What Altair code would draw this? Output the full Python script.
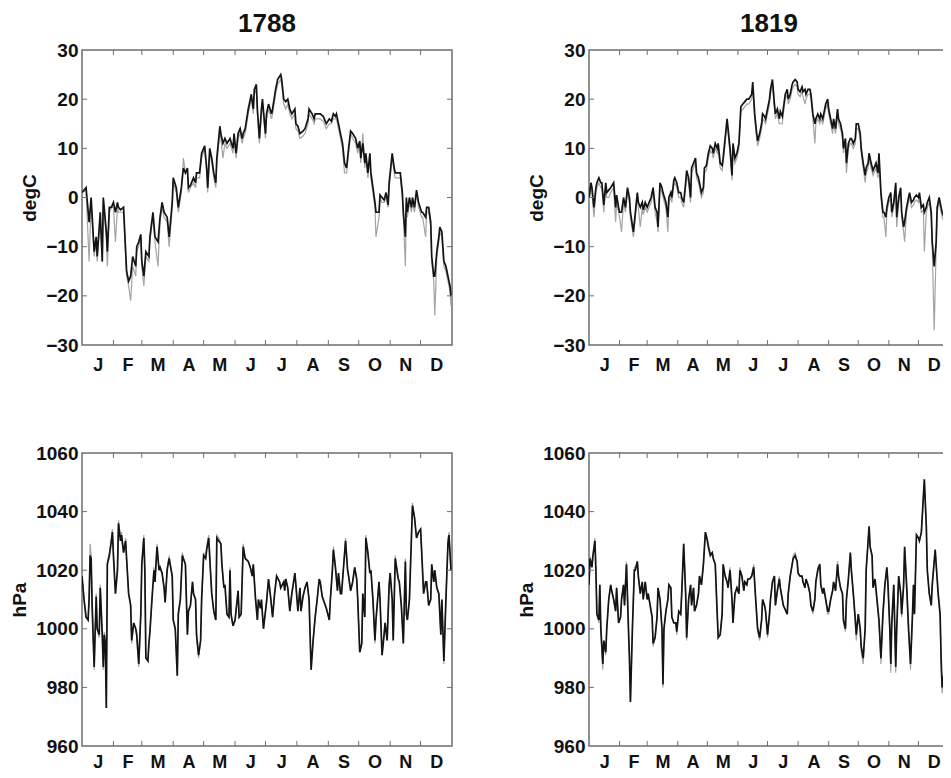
import altair as alt
import pandas as pd

FONT = "Liberation Sans"
FRAME = "#6e6e6e"
INK = "#111111"

MONTHS = ["J", "F", "M", "A", "M", "J", "J", "A", "S", "O", "N", "D"]
MONTH_MID = [15.5, 45, 74.5, 105, 135.5, 166, 196.5, 227.5, 258, 288.5, 319, 349.5]
MONTH_EDGES = [31, 59, 90, 120, 151, 181, 212, 243, 273, 304, 334]
YEARS = ["1788", "1819"]
T_TICKS = [-30, -20, -10, 0, 10, 20, 30]
P_TICKS = [960, 980, 1000, 1020, 1040, 1060]

# ---- 1788 temperature (degC) ----
T88_DAYS = [0, 4, 7, 9, 12, 14, 15, 18, 20, 21, 24, 25, 27, 29, 31, 33, 35, 36, 38, 41,
            44, 46, 48, 50, 53, 54, 56, 58, 59, 61, 63, 66, 67, 70, 72, 75, 77, 79, 81, 84,
            86, 89, 90, 93, 95, 98, 100, 102, 104, 105, 107, 110, 112, 113, 116, 118, 121, 123, 124, 126,
            128, 130, 132, 133, 136, 137, 139, 141, 143, 146, 149, 150, 152, 154, 156, 158, 159, 161, 164, 165,
            167, 169, 170, 172, 173, 175, 177, 178, 181, 182, 184, 187, 188, 191, 193, 196, 197, 199, 201, 203,
            205, 207, 210, 211, 213, 215, 218, 220, 223, 224, 227, 229, 230, 233, 235, 238, 239, 241, 244, 246,
            248, 250, 251, 253, 255, 257, 259, 261, 263, 265, 267, 270, 272, 274, 275, 277, 279, 280, 282, 284,
            285, 287, 289, 290, 293, 294, 296, 298, 300, 302, 303, 306, 308, 309, 312, 314, 316, 317, 319, 320,
            321, 323, 325, 326, 328, 330, 332, 335, 336, 339, 340, 342, 344, 345, 347, 348, 350, 352, 353, 355,
            357, 359, 360, 362, 363, 364]
T88_BLACK = [1, 2, -5, 0, -11, -8, -12, -3, -13, 0, -7, -11, -2, -2, -1, -3, -1, -2, -2.5, -2,
             -15, -17, -16, -12, -14, -10, -9, -7.5, -13, -16, -11, -12, -8, -3, -8, -9, -4, -1, -3, -4,
             -8, -1, 4, 2, -2, 2, 6, 5, 6, 2, 2.5, 4, 3, 5, 5, 9, 10.5, 6, 2, 10,
             8, 5, 3, 8, 14.5, 13, 11, 12, 11, 12, 10, 13, 9, 13, 14, 12, 13, 14, 18, 19,
             21, 18, 22, 23, 18, 12, 18, 20, 13, 17, 19, 17, 18, 22, 24, 25, 24, 20, 19.5, 20,
             18, 17, 18, 15, 14.5, 13, 13.5, 14, 16, 18, 17, 16, 17, 17, 17, 16.5, 16, 15, 16, 15.5,
             17, 16.5, 17, 15, 13, 11, 7, 6, 10, 13.5, 13, 12, 10, 11.5, 8, 11, 7, 9, 5, 9,
             5, 2, -1, -3, -3, 0.5, 0, -0.5, 1, -1.5, 3, 9, 6, 5, 5, 5, 1, -3, -8, 0,
             -3, 0, -2, 0, -2, 1.5, -1, -3, -3, -4, -2, -2, -5, -12, -16, -16, -11, -8, -6, -7,
             -13, -14, -15, -17, -18, -20]
T88_GRAY = [1, 1.5, -13, -1, -12, -9, -13, -4, -13, -1, -8, -14, -3, -2, -2, -9, -2, -3, -3, -3,
            -16, -18, -21, -14, -16, -11, -10, -8, -14, -18, -12, -13, -9, -4, -9, -14, -5, -2, -4, -5,
            -10, -2, 3, 1, -3, 1, 8, 5, 5, 1, 2, 3, 2, 4, 4, 8, 10, 5, 1, 9,
            7, 4, 2, 7, 13, 12, 8, 11, 10, 11, 9, 12, 8, 12, 13, 11, 12, 13, 17, 18,
            20, 17, 21, 22, 17, 11, 17, 19, 12, 16, 18, 16, 17, 21, 23, 24, 23, 19, 18, 19,
            17, 16, 17, 14, 13.5, 12, 12.5, 13, 15, 17, 16, 15, 16, 16, 16, 15.5, 15, 14, 15, 15,
            16, 16, 16, 14, 12, 10, 5, 5, 9, 13, 12, 11, 9, 11, 7, 13, 6, 8, 4, 8,
            4, 1, -2, -8, -4, 0, -1, -1, 0, -2, 2, 8, 5, 4, 4, 4, 0, -4, -14, -1,
            -4, -1, -3, -1, -3, 1, -2, -4, -4, -8, -3, -3, -6, -13, -17, -24, -12, -9, -7, -8,
            -14, -15, -16, -18, -19, -22]

# ---- 1819 temperature (degC) ----
T19_DAYS = [0, 2, 3, 5, 7, 8, 10, 12, 13, 15, 17, 18, 20, 22, 25, 27, 28, 30, 31, 33,
            35, 37, 39, 41, 42, 45, 47, 49, 50, 52, 54, 55, 57, 59, 61, 63, 65, 67, 69, 70,
            72, 74, 75, 78, 80, 81, 83, 84, 86, 87, 89, 91, 93, 94, 96, 98, 99, 101, 103, 104,
            106, 108, 109, 111, 113, 114, 116, 117, 119, 121, 123, 125, 126, 128, 130, 131, 133, 135, 136, 138,
            140, 141, 143, 145, 146, 148, 150, 152, 154, 156, 158, 160, 162, 165, 166, 168, 170, 171, 173, 175,
            176, 178, 179, 181, 183, 184, 186, 188, 189, 191, 193, 194, 196, 197, 199, 201, 202, 204, 206, 207,
            209, 211, 212, 214, 216, 217, 219, 220, 222, 224, 225, 227, 229, 230, 232, 234, 235, 237, 238, 240,
            242, 243, 245, 247, 248, 250, 252, 253, 255, 257, 258, 260, 261, 263, 265, 266, 268, 270, 271, 273,
            275, 276, 278, 280, 281, 283, 284, 286, 288, 289, 291, 293, 294, 296, 298, 299, 301, 302, 304, 306,
            307, 309, 311, 312, 314, 316, 317, 319, 320, 322, 324, 325, 327, 329, 330, 332, 334, 335, 337, 339,
            340, 342, 343, 345, 347, 348, 350, 352, 353, 355, 357, 358, 360, 362, 364]
T19_BLACK = [0, 3, 2, -2, 2, 3, 4, 3, 3, -1.5, 3, 1, 1.5, 2, 3, -2, 0.5, -2, -3, -3,
             0, -2, 2, 0, -3, -7, -3, 1, -1, -2, -1, -2.5, -1, -2, -1, 0, 2, -2, -3, -6,
             3, 2, 1, -1, -4, 0, 1, 0, 3.5, 4, 3, 1, 1, 0, -1, 3, 5.5, 4, 0, 6,
             7, 8, 5, 4, 2, 1, 2, 6, 6.5, 9, 10.5, 10, 9, 11, 10, 11, 7, 6.5, 8, 12,
             16, 14, 10, 4.5, 11, 8, 9, 11, 18.5, 19, 19.5, 20, 20, 21, 23.5, 17, 13, 11.5, 13, 15,
             17, 16.5, 16, 18, 20, 22, 24, 19, 17, 18, 16, 17.5, 16.5, 18, 21, 22, 20, 21, 23, 23.5,
             24, 23.5, 22, 21.5, 22.5, 21.5, 22, 21, 22, 22, 21, 17, 15, 16, 17, 16, 17, 16, 17, 19,
             20, 18, 16, 14, 16, 14, 18, 16, 15, 13, 10, 12, 7, 11, 12, 12, 11, 12, 15, 15,
             13, 10, 7, 4.5, 6, 7, 9, 7, 5.5, 6, 7, 5, 9, 1, -3, -3, -4, -2, 0, 1,
             -3, -1, 3, -4, 0, 2, -3, -6, -5, -2, 0, 1, -1, -0.5, 0, 0.5, 0, 1, -2, -1.5,
             -3, -2, -1, 0, -3, -9, -14, -9, -2, 0, -2, -3, -4, -5, -6]
T19_GRAY = [-1, 2, 1, -4, 1, 2, 3, 2, 2, -3, 2, 0, 0, 1, 2, -5, -1, -3, -4, -7,
            -1, -3, 1, -1, -4, -8, -4, 0, -2, -6, -2, -3.5, -2, -3, -2, -1, 1, -3, -5, -7,
            2, 1, 0, -2, -7, -1, 0, -1, 2.5, 3, 2, 0, 0, -1, -2, 2, 4.5, 3, -1, 5,
            6, 7, 4, 3, 1, 0, 1, 5, 5.5, 8, 9.5, 9, 8, 10, 9, 10, 6, 5.5, 7, 11,
            15, 13, 9, 3.5, 10, 7, 8, 10, 17.5, 18, 18.5, 19, 19, 20, 22.5, 16, 12, 10.5, 12, 14,
            16, 15.5, 15, 17, 19, 21, 23, 18, 16, 17, 15, 15, 15, 17, 20, 21, 19, 20, 22, 22.5,
            23, 22.5, 21, 20.5, 21.5, 20.5, 19, 20, 21, 21, 20, 16, 11, 15, 16, 15, 16, 15, 16, 18,
            19, 17, 15, 13, 15, 13, 17, 15, 14, 12, 9, 11, 5, 10, 11, 11, 10, 11, 14, 14,
            12, 9, 6, 3, 5, 6, 8, 6, 4.5, 5, 6, 4, 8, 0, -4, -4, -8, -3, -1, 0,
            -4, -2, 2, -6, -1, 1, -4, -7, -9, -3, -1, 0, -2, -1.5, -1, -0.5, -1, 0, -3, -2.5,
            -11, -3, -2, -1, -4, -10, -27, -10, -3, -1, -3, -4, -5, -6, -7]

# ---- 1788 pressure (hPa) ----
P88_DAYS = [0, 2, 4, 6, 7, 8, 9, 10, 12, 14, 15, 17, 18, 20, 21, 22, 23, 24, 25, 27,
            29, 30, 31, 33, 35, 36, 38, 39, 41, 43, 44, 46, 48, 49, 51, 53, 54, 56, 58, 59,
            61, 62, 63, 65, 66, 67, 69, 71, 72, 74, 76, 77, 79, 81, 82, 84, 86, 87, 89, 90,
            92, 94, 95, 97, 99, 100, 102, 104, 105, 107, 109, 110, 112, 113, 115, 117, 118, 120, 122, 123,
            125, 127, 128, 130, 132, 133, 135, 137, 138, 140, 141, 143, 145, 146, 147, 149, 151, 154, 155, 157,
            159, 161, 164, 166, 168, 169, 171, 173, 174, 176, 177, 179, 182, 184, 186, 188, 190, 192, 195, 196,
            199, 200, 201, 203, 205, 207, 210, 211, 213, 215, 216, 218, 220, 222, 224, 226, 228, 230, 232, 234,
            235, 237, 239, 241, 244, 245, 247, 248, 250, 252, 253, 255, 256, 258, 260, 262, 263, 265, 267, 269,
            271, 272, 274, 276, 277, 279, 280, 282, 284, 285, 287, 289, 290, 293, 294, 296, 298, 299, 301, 303,
            304, 306, 307, 309, 312, 313, 315, 317, 319, 320, 321, 323, 326, 328, 330, 332, 334, 335, 337, 339,
            340, 342, 344, 345, 347, 348, 350, 352, 354, 355, 357, 359, 361, 362, 364]
P88_BLACK = [1018, 1010, 1004, 1003, 1010, 1025, 1024, 1008, 987, 1011, 1000, 998, 1014, 998, 987, 998, 995, 973, 1022, 1025,
             1030, 1033, 1025, 1012, 1020, 1036, 1030, 1032, 1026, 1030, 1024, 1012, 1008, 996, 1002, 1000, 998, 988, 1005, 1022,
             1031, 1020, 990, 989, 995, 999, 1010, 1020, 1016, 1028, 1020, 1021, 1019, 1014, 1009, 1020, 1024, 1022, 1018, 1003,
             1000, 984, 1005, 1010, 1025, 1024, 1022, 998, 1006, 1008, 1016, 1012, 1010, 998, 991, 996, 1010, 1025, 1024, 1027,
             1031, 1018, 1012, 1006, 1003, 1031, 1030, 1029, 1022, 1014, 1015, 1005, 1004, 1020, 1005, 1001, 1003, 1013, 1004, 1005,
             1028, 1024, 1023, 1021, 1018, 1022, 1011, 1003, 1010, 1007, 1010, 1000, 1009, 1017, 1011, 1004, 1012, 1018, 1016, 1014,
             1016, 1013, 1017, 1014, 1006, 1012, 1019, 1015, 1006, 1014, 1006, 1011, 1014, 1016, 1010, 986, 996, 1004, 1010, 1017,
             1016, 1011, 1009, 1007, 1003, 1010, 1020, 1027, 1021, 1013, 1019, 1012, 1012, 1021, 1030, 1020, 1018, 1013, 1016, 1021,
             1017, 1010, 992, 995, 1012, 1004, 1031, 1026, 1019, 1020, 1010, 996, 1003, 1016, 1010, 991, 998, 1002, 996, 1015,
             1019, 1010, 996, 1024, 1017, 1016, 1008, 995, 1023, 1005, 1003, 1010, 1042, 1038, 1031, 1033, 1034, 1027, 1012, 1016,
             1016, 1008, 1010, 1022, 1016, 1020, 1014, 1012, 998, 1010, 989, 1010, 1029, 1032, 1020]
P88_GRAY = [1018, 1010, 1004, 1003, 1011, 1029, 1025, 1008, 986, 1012, 1000, 997, 1015, 997, 986, 999, 995, 973, 1023, 1026,
            1031, 1034, 1026, 1012, 1021, 1037, 1031, 1033, 1026, 1031, 1024, 1012, 1008, 995, 1002, 1000, 997, 987, 1005, 1022,
            1032, 1020, 990, 989, 995, 999, 1010, 1021, 1016, 1029, 1020, 1021, 1019, 1014, 1009, 1021, 1025, 1022, 1018, 1003,
            1000, 984, 1005, 1010, 1026, 1024, 1022, 998, 1006, 1008, 1016, 1012, 1010, 997, 990, 996, 1010, 1026, 1024, 1028,
            1032, 1018, 1012, 1006, 1003, 1032, 1031, 1029, 1022, 1014, 1015, 1005, 1004, 1021, 1005, 1001, 1003, 1013, 1004, 1005,
            1029, 1024, 1023, 1021, 1018, 1022, 1011, 1003, 1010, 1007, 1010, 1000, 1009, 1017, 1011, 1004, 1012, 1018, 1016, 1014,
            1016, 1013, 1017, 1014, 1006, 1012, 1019, 1015, 1006, 1014, 1006, 1011, 1014, 1016, 1010, 986, 996, 1004, 1010, 1017,
            1016, 1011, 1009, 1007, 1003, 1010, 1020, 1028, 1021, 1013, 1019, 1012, 1012, 1021, 1031, 1020, 1018, 1013, 1016, 1021,
            1017, 1010, 992, 995, 1012, 1004, 1032, 1026, 1019, 1020, 1010, 995, 1003, 1016, 1010, 991, 998, 1002, 996, 1015,
            1019, 1010, 996, 1025, 1017, 1016, 1008, 995, 1024, 1005, 1003, 1010, 1043, 1038, 1031, 1033, 1034, 1027, 1012, 1016,
            1016, 1008, 1010, 1022, 1016, 1020, 1014, 1012, 998, 1010, 988, 1010, 1030, 1033, 1020]

# ---- 1819 pressure (hPa) ----
P19_DAYS = [0, 1, 3, 4, 6, 7, 8, 10, 11, 12, 14, 15, 17, 18, 20, 22, 23, 25, 27, 28,
            30, 32, 33, 35, 36, 38, 40, 41, 42, 44, 46, 47, 49, 50, 52, 54, 55, 57, 59, 60,
            62, 64, 65, 67, 69, 70, 72, 74, 75, 76, 78, 80, 81, 83, 84, 86, 88, 89, 91, 93,
            94, 96, 98, 99, 101, 103, 104, 106, 107, 109, 111, 112, 114, 116, 118, 120, 121, 123, 125, 126,
            128, 130, 131, 133, 135, 136, 138, 140, 141, 143, 145, 146, 148, 150, 152, 153, 155, 157, 158, 160,
            161, 163, 165, 167, 169, 171, 173, 175, 176, 178, 179, 181, 183, 184, 186, 188, 189, 191, 193, 194,
            196, 197, 201, 202, 204, 206, 207, 209, 211, 212, 214, 216, 217, 219, 220, 222, 224, 225, 227, 229,
            230, 232, 234, 235, 237, 238, 240, 242, 243, 245, 247, 248, 250, 252, 253, 255, 257, 258, 260, 261,
            263, 265, 266, 268, 270, 271, 273, 275, 276, 278, 280, 281, 284, 285, 287, 288, 290, 292, 294, 296,
            298, 300, 302, 303, 305, 306, 307, 309, 311, 312, 314, 316, 317, 319, 320, 322, 324, 326, 328, 329,
            330, 332, 334, 335, 337, 339, 340, 342, 343, 345, 347, 348, 351, 352, 354, 356, 357, 358, 360, 362,
            364]
P19_BLACK = [1015, 1024, 1021, 1025, 1030, 1020, 1005, 1003, 1015, 1000, 988, 996, 992, 1000, 1010, 1015, 1013, 1010, 1006, 1014,
             1002, 1004, 1010, 1015, 1008, 1022, 1000, 990, 975, 1000, 1020, 1020, 1023, 1018, 1012, 1016, 1010, 1016, 1010, 1012,
             1008, 1004, 995, 997, 1004, 1014, 1010, 1000, 981, 1000, 1006, 1010, 1015, 1014, 1004, 1002, 1002, 999, 1006, 1005,
             1012, 1029, 1012, 997, 1010, 1015, 1008, 1014, 1006, 1008, 1012, 1018, 1015, 1022, 1033, 1030, 1028, 1025, 1026, 1024,
             1022, 1005, 997, 998, 1005, 1022, 1018, 1016, 1014, 1020, 1010, 1002, 1012, 1014, 1012, 1020, 1018, 1013, 1016, 1015,
             1017, 1017, 1018, 1021, 1010, 1000, 997, 1003, 1010, 1008, 1006, 998, 1005, 1010, 1016, 1018, 1008, 1013, 1017, 1014,
             1010, 1008, 1005, 1012, 1018, 1022, 1024, 1025, 1023, 1019, 1018, 1018, 1016, 1014, 1017, 1015, 1012, 1008, 1006, 1010,
             1016, 1020, 1022, 1015, 1012, 1014, 1010, 1006, 1006, 1010, 1013, 1016, 1013, 1022, 1018, 1014, 1012, 1003, 1000, 1010,
             1017, 1026, 1020, 1012, 1003, 998, 1005, 1000, 994, 990, 1000, 1020, 1035, 1028, 1025, 1014, 1017, 1010, 1003, 990,
             1005, 1015, 1021, 1016, 1000, 988, 1002, 1015, 987, 1000, 1018, 1012, 1005, 1015, 1028, 1015, 1000, 988, 1005, 1015,
             1005, 1032, 1031, 1030, 1033, 1045, 1051, 1035, 1020, 1012, 1008, 1015, 1027, 1022, 1012, 1005, 990, 980, 985, 995,
             1005]
P19_GRAY = [1015, 1025, 1021, 1025, 1031, 1020, 1005, 1002, 1015, 999, 986, 996, 991, 1000, 1010, 1015, 1013, 1010, 1006, 1014,
            1002, 1004, 1010, 1015, 1008, 1023, 1000, 990, 975, 1000, 1021, 1021, 1023, 1018, 1012, 1016, 1010, 1016, 1010, 1012,
            1008, 1004, 994, 997, 1004, 1014, 1010, 1000, 980, 1000, 1006, 1010, 1015, 1014, 1004, 1002, 1002, 998, 1006, 1005,
            1012, 1029, 1012, 996, 1010, 1015, 1008, 1014, 1006, 1008, 1012, 1018, 1015, 1022, 1033, 1031, 1029, 1026, 1026, 1024,
            1022, 1005, 997, 998, 1005, 1022, 1018, 1016, 1014, 1021, 1010, 1002, 1012, 1014, 1012, 1021, 1018, 1013, 1016, 1015,
            1017, 1017, 1018, 1022, 1010, 999, 996, 1003, 1010, 1008, 1006, 997, 1005, 1010, 1016, 1018, 1008, 1013, 1018, 1014,
            1010, 1008, 1005, 1012, 1018, 1022, 1025, 1026, 1023, 1019, 1018, 1018, 1016, 1014, 1017, 1015, 1012, 1008, 1005, 1010,
            1016, 1021, 1022, 1015, 1012, 1014, 1010, 1005, 1005, 1010, 1013, 1016, 1013, 1023, 1018, 1014, 1012, 1002, 999, 1010,
            1017, 1026, 1020, 1012, 1002, 996, 1005, 999, 992, 988, 1000, 1020, 1035, 1028, 1025, 1014, 1017, 1009, 1002, 988,
            1005, 1015, 1021, 1016, 999, 985, 1002, 1015, 985, 1000, 1018, 1012, 1004, 1015, 1028, 1015, 999, 986, 1005, 1015,
            1005, 1032, 1031, 1030, 1033, 1045, 1051, 1035, 1020, 1012, 1008, 1015, 1027, 1022, 1012, 1004, 988, 978, 984, 995,
            1005]

label_expr = ""
for edge, m in zip(MONTH_EDGES, MONTHS[:-1]):
    label_expr += f"datum.value < {edge} ? '{m}' : "
label_expr += f"'{MONTHS[-1]}'"


def panel(days, black, gray, ydom, yvals, ytitle, width, height, xpad, title=None):
    xenc = alt.X(
        "day:Q",
        scale=alt.Scale(domain=[0, 365], nice=False, zero=False),
        axis=alt.Axis(values=MONTH_MID, labelExpr=label_expr, title=None, ticks=False,
                      domain=False, grid=False, labelFont=FONT, labelFontSize=18,
                      labelFontWeight="bold", labelColor=INK, labelPadding=xpad,
                      labelFlush=False),
    )
    yenc = alt.Y(
        "value:Q",
        scale=alt.Scale(domain=ydom, nice=False, zero=False),
        axis=alt.Axis(values=yvals, format="d", title=ytitle, ticks=False, domain=False,
                      grid=False, labelFont=FONT, labelFontSize=19, labelFontWeight="bold",
                      labelColor=INK, labelPadding=4, labelFlush=False,
                      titleFont=FONT, titleFontSize=19, titleFontWeight="bold",
                      titleColor=INK, titlePadding=6),
    )
    df_k = pd.DataFrame({"day": days, "value": black})
    df_g = pd.DataFrame({"day": days, "value": gray})
    g_line = alt.Chart(df_g).mark_line(color="#a4a4a4", strokeWidth=1.2, clip=True).encode(x=xenc, y=yenc)
    k_line = alt.Chart(df_k).mark_line(color="#141414", strokeWidth=1.7, clip=True).encode(x=xenc, y=yenc)

    n = len(MONTH_EDGES)
    xt = pd.DataFrame({"day": MONTH_EDGES + MONTH_EDGES,
                       "value": [ydom[0]] * n + [ydom[1]] * n})
    inner = yvals[1:-1]
    yt = pd.DataFrame({"day": [0] * len(inner) + [365] * len(inner),
                       "value": inner + inner})
    xticks = alt.Chart(xt).mark_tick(orient="vertical", size=10, thickness=1,
                                     color=FRAME, opacity=1, clip=True).encode(x=xenc, y=yenc)
    yticks = alt.Chart(yt).mark_tick(orient="horizontal", size=10, thickness=1,
                                     color=FRAME, opacity=1, clip=True).encode(x=xenc, y=yenc)
    ch = alt.layer(g_line, k_line, xticks, yticks).properties(width=width, height=height)
    if title:
        ch = ch.properties(title=alt.TitleParams(text=title, font=FONT, fontSize=26,
                                                 fontWeight="bold", color=INK, offset=4,
                                                 anchor="middle"))
    return ch


tl = panel(T88_DAYS, T88_BLACK, T88_GRAY, [-30, 30], T_TICKS, "degC", 370, 295, 11, YEARS[0])
tr = panel(T19_DAYS, T19_BLACK, T19_GRAY, [-30, 30], T_TICKS, "degC", 360, 295, 11, YEARS[1])
bl = panel(P88_DAYS, P88_BLACK, P88_GRAY, [960, 1060], P_TICKS, "hPa", 370, 293, 7)
br = panel(P19_DAYS, P19_BLACK, P19_GRAY, [960, 1060], P_TICKS, "hPa", 360, 293, 7)

chart = alt.concat(
    tl, tr, bl, br,
    columns=2,
    spacing=alt.RowColnumber(row=108, column=137),
    bounds="flush",
).properties(
    padding={"left": 1, "top": 2, "right": -7, "bottom": -2}
).configure(
    font=FONT,
    view=alt.ViewConfig(stroke=FRAME, strokeWidth=1.5),
)

chart.save("out.html", embed_options={"renderer": "svg", "actions": False})
